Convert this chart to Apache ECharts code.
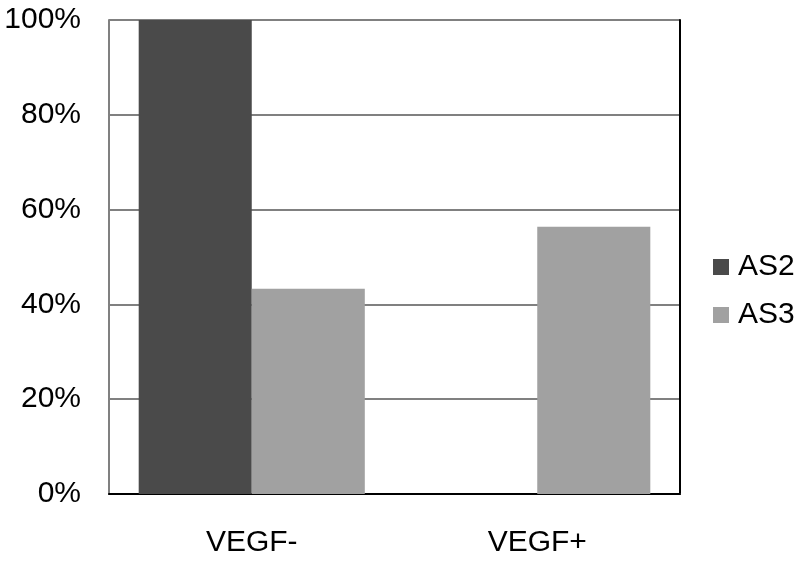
<!DOCTYPE html>
<html><head><meta charset="utf-8">
<script src="https://cdn.jsdelivr.net/npm/echarts@6/dist/echarts.min.js"></script>
<style>html,body{margin:0;padding:0;background:#fff}#c{width:800px;height:563px}</style>
</head><body><div id="c"></div>
<script>
var categories = ['VEGF-', 'VEGF+'];
var seriesNames = ['AS2', 'AS3'];
var as2Values = [100, 0];
var as3Values = [43.3, 56.4];
var yTicks = [0, 20, 40, 60, 80, 100];

var chart = echarts.init(document.getElementById('c'), null, {renderer: 'canvas'});
var font = 'Liberation Sans, Arial, sans-serif';
chart.setOption({
  animation: false,
  backgroundColor: '#fff',
  grid: {left: 109, right: 120, top: 20, bottom: 69, containLabel: false},
  legend: {
    orient: 'vertical', left: 708, top: 247, itemWidth: 16, itemHeight: 16, itemGap: 18,
    icon: 'rect',
    textStyle: {fontFamily: font, fontSize: 30, color: '#000', padding: [0,0,0,4]},
    data: seriesNames
  },
  xAxis: [{
    type: 'category', data: categories,
    axisLine: {show: true, lineStyle: {color: '#808080', width: 2}},
    axisTick: {show: false},
    axisLabel: {fontFamily: font, fontSize: 30, color: '#000', margin: 34}
  }, {
    type: 'category', data: categories, position: 'top',
    axisLine: {show: true, lineStyle: {color: '#000', width: 2}},
    axisTick: {show: false}, axisLabel: {show: false}
  }],
  yAxis: [{
    type: 'value', min: 0, max: 100, interval: 20,
    axisLine: {show: true, lineStyle: {color: '#808080', width: 2}},
    axisTick: {show: false},
    splitLine: {show: true, lineStyle: {color: '#808080', width: 2}},
    axisLabel: {fontFamily: font, fontSize: 30, color: '#000', margin: 28,
      formatter: function (v) { return yTicks.indexOf(v) >= 0 ? v + '%' : ''; }}
  }, {
    type: 'value', min: 0, max: 100, interval: 20, position: 'right',
    axisLine: {show: true, lineStyle: {color: '#000', width: 2}},
    axisTick: {show: false}, axisLabel: {show: false}, splitLine: {show: false}
  }],
  series: [{
    name: seriesNames[0], type: 'bar', data: as2Values, barGap: '0%', barCategoryGap: '20.8%',
    itemStyle: {color: '#4a4a4a'}
  }, {
    name: seriesNames[1], type: 'bar', data: as3Values, barGap: '0%', barCategoryGap: '20.8%',
    itemStyle: {color: '#a1a1a1'}
  }]
});
</script></body></html>
